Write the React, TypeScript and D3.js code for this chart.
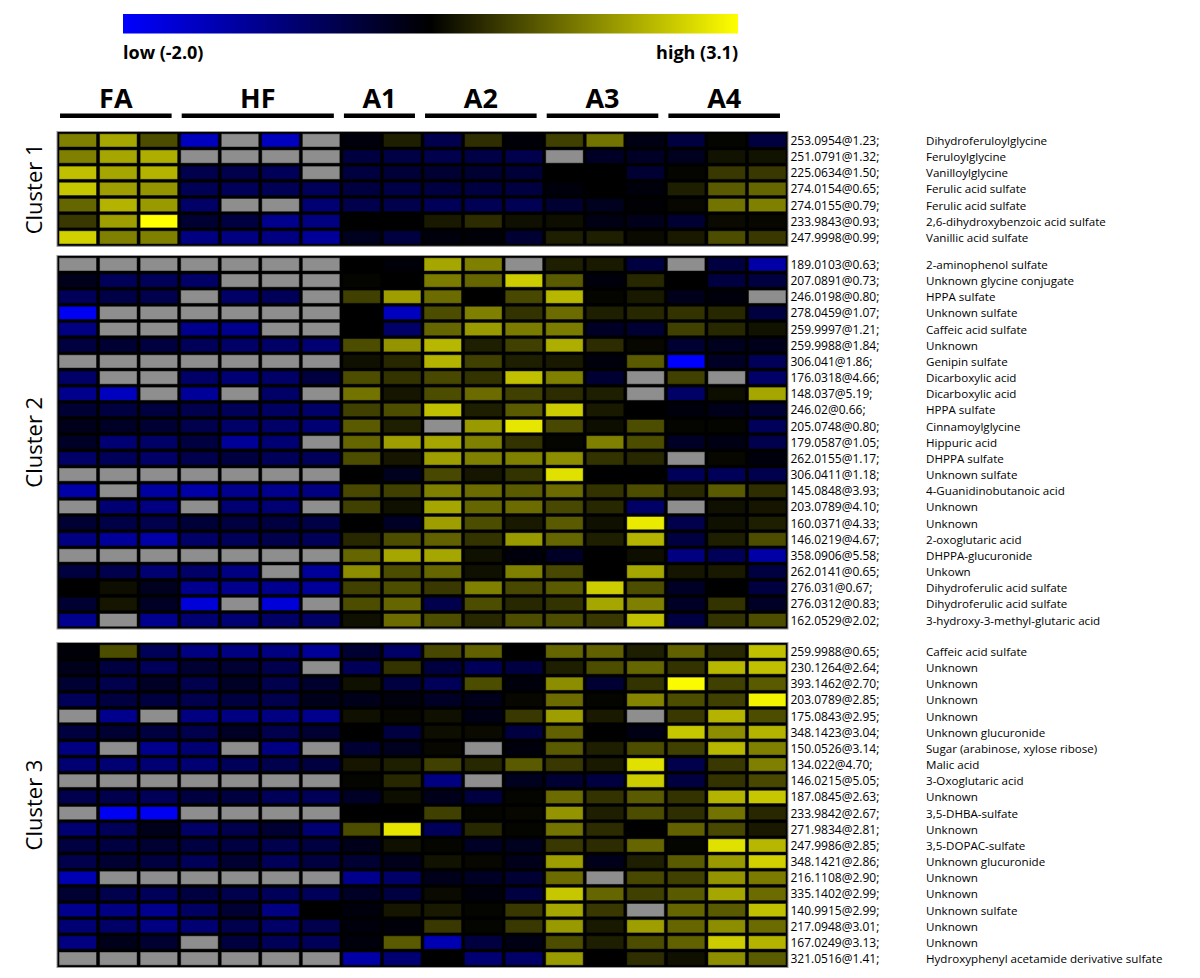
import React from 'react';
import * as d3 from 'd3';

// ---------- data ----------
const groups = ['FA', 'HF', 'A1', 'A2', 'A3', 'A4'];
const groupSizes = [3, 4, 2, 3, 3, 3];
const clusterNames = ['Cluster 1', 'Cluster 2', 'Cluster 3'];
const legendLow = 'low (-2.0)';
const legendHigh = 'high (3.1)';
const scaleLow = -2.0;
const scaleHigh = 3.1;

const N = null;

const cluster1Masses = [
  '253.0954@1.23;', '251.0791@1.32;', '225.0634@1.50;', '274.0154@0.65;', '274.0155@0.79;',
  '233.9843@0.93;', '247.9998@0.99;',
];
const cluster1Names = [
  'Dihydroferuloylglycine', 'Feruloylglycine', 'Vanilloylglycine', 'Ferulic acid sulfate',
  'Ferulic acid sulfate', '2,6-dihydroxybenzoic acid sulfate', 'Vanillic acid sulfate',
];
const cluster1Values = [
  [1.55, 2.02, 0.93, -1.5, N, -1.5, N, -0.1, 0.37, -0.6, 0.56, -0.06, 0.78, 1.4, -0.16, -0.5, 0.06, -0.5],
  [1.55, 2.02, 2.11, N, N, N, N, -0.5, -0.56, -0.6, -0.56, -0.6, N, -0.3, -0.3, -0.24, 0.22, 0.22],
  [2.33, 2.02, 2.17, -0.6, -0.6, -0.7, N, -0.5, -0.44, -0.4, -0.4, -0.44, 0, 0, -0.4, 0.06, 0.68, 0.68],
  [2.42, 1.92, 1.8, -0.66, -0.7, -0.66, -0.7, -0.5, -0.56, -0.5, -0.5, -0.5, -0.1, 0, -0.1, 0.37, 1.09, 1.24],
  [1.24, 2.17, 1.86, -0.8, N, N, -0.9, -0.6, -0.6, -0.7, -0.66, -0.66, -0.4, -0.24, -0.04, 0.09, 1.4, 1.55],
  [0.68, 1.92, 3.1, -0.4, -0.5, -1.1, -1.0, 0, 0, 0.31, 0.53, 0.19, 0.16, -0.16, -0.2, -0.4, 0.12, 0.09],
  [2.54, 1.55, 1.55, -1.0, -1.0, -1.0, -1.2, -0.24, -0.5, -0.1, -0.06, -0.4, 0.37, 0.37, 0.12, 0.31, 0.93, 0.68],
];

const cluster2Masses = [
  '189.0103@0.63;', '207.0891@0.73;', '246.0198@0.80;', '278.0459@1.07;', '259.9997@1.21;',
  '259.9988@1.84;', '306.041@1.86;', '176.0318@4.66;', '148.037@5.19;', '246.02@0.66;',
  '205.0748@0.80;', '179.0587@1.05;', '262.0155@1.17;', '306.0411@1.18;', '145.0848@3.93;',
  '203.0789@4.10;', '160.0371@4.33;', '146.0219@4.67;', '358.0906@5.58;', '262.0141@0.65;',
  '276.031@0.67;', '276.0312@0.83;', '162.0529@2.02;',
];
const cluster2Names = [
  '2-aminophenol sulfate', 'Unknown glycine conjugate', 'HPPA sulfate', 'Unknown sulfate',
  'Caffeic acid sulfate', 'Unknown', 'Genipin sulfate', 'Dicarboxylic acid', 'Dicarboxylic acid',
  'HPPA sulfate', 'Cinnamoylglycine', 'Hippuric acid', 'DHPPA sulfate', 'Unknown sulfate',
  '4-Guanidinobutanoic acid', 'Unknown', 'Unknown', '2-oxoglutaric acid', 'DHPPA-glucuronide',
  'Unkown', 'Dihydroferulic acid sulfate', 'Dihydroferulic acid sulfate',
  '3-hydroxy-3-methyl-glutaric acid',
];
const cluster2Values = [
  [N, N, N, N, N, N, N, 0, -0.06, 2.02, 1.55, N, 0.37, 0.31, -0.5, N, -0.5, -1.3],
  [-0.2, -0.7, -0.7, -0.8, N, N, N, 0.06, 0, 1.49, 1.24, 2.48, 1.09, -0.1, 0.47, 0, -0.5, -0.5],
  [-0.7, -0.56, -0.6, N, -0.8, -0.7, N, 0.78, 1.92, 1.3, 0, 0.87, 2.23, 0.06, 0.31, -0.2, -0.1, N],
  [-1.9, N, N, N, N, N, N, 0, -1.5, 0.93, 1.55, 0.62, 1.3, 0.37, 0.47, 0.62, 0.47, -0.5],
  [-1.0, N, N, -1.1, -1.1, N, N, 0, -0.8, 1.24, 1.86, 1.49, 1.49, -0.3, -0.4, 0.78, 0.47, 0.22],
  [-0.5, -0.4, -0.5, -0.7, -0.8, -0.8, -0.9, 0.93, 1.8, 2.23, 0.37, 0.78, 2.11, 0.53, 0.09, -0.4, -0.24, -0.2],
  [N, N, N, N, N, N, N, 0.19, 0.47, 2.17, 0.78, 0.37, 0.31, -0.1, 1.09, -2.0, -0.3, -0.7],
  [-0.8, N, N, -0.8, -0.9, -0.8, -0.5, 0.93, 0.62, 0.87, 0.62, 2.33, 1.55, -0.4, N, 0.78, N, -0.8],
  [-1.1, -1.5, N, -1.2, N, -0.8, N, 1.4, 0.25, 0.93, 1.3, 0.78, 0.53, 0.37, N, -0.8, 0.16, 2.02],
  [-0.4, -0.5, -0.5, -0.6, -0.7, -0.76, -0.8, 0.78, 0.93, 2.33, 0.37, 1.09, 2.48, 0.31, 0, -0.1, -0.2, -0.4],
  [-0.2, -0.3, -0.4, -0.6, -0.8, -0.8, -0.9, 1.09, 0.37, N, 1.86, 2.79, 0.87, 0.16, 0.93, 0.06, 0.06, -0.7],
  [-0.3, -0.9, -0.8, -0.5, -1.2, -0.9, N, 1.24, 1.92, 2.02, 1.55, 0.62, 0.06, 1.55, 0.93, -0.3, -0.16, -0.6],
  [-0.8, -0.7, -0.8, -0.6, -0.5, -0.7, -0.7, 0.93, 0.25, 1.92, 1.55, 1.55, 1.71, 0.62, 0.47, N, 0.09, -0.1],
  [N, N, N, N, N, N, N, 0, -0.24, 0.87, 0.25, 0.62, 2.73, 0, 0, -0.7, -0.7, -0.6],
  [-1.3, N, -1.24, -1.3, -1.1, -1.1, -1.0, 0.87, 0.78, 1.55, 1.3, 1.09, 1.3, 0.62, 0.93, 0.47, 1.09, 0.56],
  [N, -0.9, -1.0, N, -0.9, -0.9, N, 0.78, 0.19, 2.02, 1.24, 1.3, 0.87, 0.47, -0.8, N, 0.19, 0.25],
  [-0.4, -0.56, -0.6, -0.44, -0.5, -0.5, -0.56, 0, -0.3, 1.92, 0.93, 0.31, 1.09, 0.19, 2.85, -0.6, 0.19, 0.37],
  [-1.0, -1.2, -1.3, -0.8, -0.7, -0.6, -0.7, 0.47, 0.93, 1.18, 0.62, 1.86, 1.24, 0.37, 2.17, -0.5, 0.37, 0.93],
  [N, N, N, N, N, N, N, 1.24, 2.02, 2.02, 0.19, -0.1, -0.3, 0, 0.16, -1.0, -0.7, -1.3],
  [-0.5, -0.6, -0.9, -0.8, -1.0, N, -1.2, 1.71, 0.93, 1.24, 0.19, 1.55, 0.87, 0, 2.02, 0.25, 0.31, -0.5],
  [0, 0.16, -0.24, -1.1, -1.1, -1.1, -1.2, 0.78, 0.93, 0.68, 1.55, 0.87, 1.09, 2.48, 0.93, -0.3, 0, -0.5],
  [-0.4, 0.25, -0.3, -1.7, N, -1.7, N, 0.93, 1.24, -0.6, 0.93, 0.47, 0.62, 2.02, 1.55, -0.3, 0.62, -0.3],
  [-1.1, N, -1.1, -0.9, -0.9, -0.8, -0.8, 0.19, 1.3, 0.93, 0.47, 0.93, 0.93, 0.68, 2.33, -0.5, 0.62, 0.93],
];

const cluster3Masses = [
  '259.9988@0.65;', '230.1264@2.64;', '393.1462@2.70;', '203.0789@2.85;', '175.0843@2.95;',
  '348.1423@3.04;', '150.0526@3.14;', '134.022@4.70;', '146.0215@5.05;', '187.0845@2.63;',
  '233.9842@2.67;', '271.9834@2.81;', '247.9986@2.85;', '348.1421@2.86;', '216.1108@2.90;',
  '335.1402@2.99;', '140.9915@2.99;', '217.0948@3.01;', '167.0249@3.13;', '321.0516@1.41;',
];
const cluster3Names = [
  'Caffeic acid sulfate', 'Unknown', 'Unknown', 'Unknown', 'Unknown', 'Unknown glucuronide',
  'Sugar (arabinose, xylose ribose)', 'Malic acid', '3-Oxoglutaric acid', 'Unknown',
  '3,5-DHBA-sulfate', 'Unknown', '3,5-DOPAC-sulfate', 'Unknown glucuronide', 'Unknown', 'Unknown',
  'Unknown sulfate', 'Unknown', 'Unknown', 'Hydroxyphenyl acetamide derivative sulfate',
];
const cluster3Values = [
  [-0.06, 0.93, -0.7, -1.0, -1.0, -1.0, -1.2, -0.4, -0.8, 0.87, 1.18, 0, 1.24, 1.18, 0.37, 1.18, 0.47, 2.33],
  [-0.2, -0.5, -0.7, -0.4, -0.4, -0.6, N, -0.7, 0.62, -0.5, -0.7, -0.5, 0.37, 0.93, 1.24, 0.62, 2.23, 2.33],
  [-0.4, -0.6, -0.3, -0.6, -0.3, -0.6, -0.36, 0.19, -0.5, -0.7, 0.93, -0.1, 1.71, -0.4, 0.62, 3.04, 0.78, 1.09],
  [-0.7, -0.5, -0.5, -0.6, -0.5, -0.6, -0.2, -0.2, -0.12, -0.3, -0.2, 0.09, 1.3, 0.06, 1.61, 0.93, 0.78, 2.95],
  [N, -1.1, N, -1.0, -1.0, -1.0, -1.1, 0.19, 0.09, 0.19, -0.16, 0.68, 1.92, 0.31, N, 0.68, 2.17, 0.93],
  [-0.5, -0.4, -0.5, -0.6, -0.3, -0.6, -0.4, 0, -0.5, 0.16, 0.12, -0.5, 1.18, 0, -0.16, 2.42, 1.71, 2.17],
  [-1.0, N, -1.1, -0.9, N, -1.0, N, -0.4, -0.24, 0.09, N, -0.1, 1.09, 0.37, 0.93, 0.78, 2.23, 1.55],
  [-0.9, -0.9, -0.9, -0.9, -0.7, -0.6, -0.5, 0.25, 0.37, 0.78, 0.47, 1.09, 0.68, 0.31, 2.73, -0.6, 0.68, 1.55],
  [N, N, N, N, N, N, N, 0.06, 0.47, -1.0, N, -0.24, -0.4, -0.5, 2.48, -0.5, 0.62, 0.87],
  [-0.6, -0.6, -0.7, -0.5, -0.5, -0.7, -0.7, -0.3, 0.16, -0.2, -0.5, 0.06, 1.3, 0.62, 1.09, 0.62, 2.17, 2.42],
  [N, -1.9, -1.9, N, N, N, N, 0, 0, 0.78, 0.06, 0.09, 1.8, 0.37, 0.93, 0.56, 1.4, 0.47],
  [-0.9, -0.7, -0.2, -0.8, -0.6, -0.4, -0.9, 0.93, 2.79, -0.7, 0.47, 0.06, 1.4, 0.53, 0, 1.18, 0.87, 0.31],
  [-0.5, -0.5, -0.4, -0.5, -0.5, -0.6, -0.5, -0.2, 0.19, 0.06, -0.3, -0.24, 0.68, 0.53, 1.24, 0.06, 2.73, 2.23],
  [-0.6, -0.4, -0.5, -0.7, -0.4, -0.7, -0.5, -0.4, -0.2, 0.22, 0.09, -0.2, 1.92, -0.2, 0.37, 1.09, 1.86, 2.54],
  [-1.4, N, N, N, N, N, N, -1.1, -0.8, -0.2, -0.3, -0.4, 1.3, N, 0.87, 0.78, 1.8, 1.49],
  [-0.4, -0.6, -0.7, -0.5, -0.6, -0.7, -0.7, -0.3, -0.5, 0.12, -0.1, -0.5, 2.42, 1.24, 0.78, 1.09, 2.02, 1.3],
  [-1.1, -1.0, -1.1, -0.76, -0.4, -1.0, 0, -0.1, 0.25, 0.31, 0.06, 0.68, 2.02, 0.68, N, 1.24, 1.09, 2.33],
  [-0.9, -0.8, -1.0, -0.9, -0.6, -0.8, -0.6, -0.1, -0.08, 0.68, 0.06, 0.68, 1.86, 0.31, 1.92, 1.24, 1.71, 1.3],
  [-1.0, -0.2, -0.4, N, -0.5, -0.7, -0.7, -0.1, 1.09, -1.4, -0.5, -0.16, 0.93, 0.37, 0.93, 1.18, 2.48, 2.17],
  [N, N, N, N, N, N, N, -1.3, -0.9, 0, -0.9, -0.8, 1.86, 0, 0.56, 0.19, 1.71, 1.09],
];

// ---------- layout ----------
const W = 1200;
const H = 978;
const FONT = '"Open Sans", "Noto Sans", sans-serif';
const nCols = d3.sum(groupSizes);
const heatLeft = 57;
const heatRight = 788;
const rowStep = 16.17;
const clusterTops = [131.5, 255.5, 642.5];
const massX = 790.5;
const nameX = 926;

const clusters = [
  { name: clusterNames[0], masses: cluster1Masses, names: cluster1Names, values: cluster1Values },
  { name: clusterNames[1], masses: cluster2Masses, names: cluster2Names, values: cluster2Values },
  { name: clusterNames[2], masses: cluster3Masses, names: cluster3Names, values: cluster3Values },
];

const colScale = d3
  .scaleBand<number>()
  .domain(d3.range(nCols))
  .range([heatLeft, heatRight])
  .paddingInner(0.076)
  .paddingOuter(0.05);

const color = d3
  .scaleLinear<string>()
  .domain([scaleLow, 0, scaleHigh])
  .range(['#0000ff', '#000000', '#ffff00'])
  .interpolate(d3.interpolateRgb)
  .clamp(true);

const groupStarts = groupSizes.map((_, i) => d3.sum(groupSizes.slice(0, i)));

export default function App() {
  const bw = colScale.bandwidth();
  return (
    <svg
      width={W}
      height={H}
      viewBox={`0 0 ${W} ${H}`}
      style={{ position: 'absolute', left: 0, top: 0, background: '#fff' }}
    >
      <defs>
        <linearGradient id="cbar" x1="0" x2="1" y1="0" y2="0">
          <stop offset="0%" stopColor="#0000ff" />
          <stop offset="50%" stopColor="#000000" />
          <stop offset="100%" stopColor="#ffff00" />
        </linearGradient>
      </defs>
      <rect width={W} height={H} fill="#fff" />

      {/* color bar */}
      <rect x={123} y={14} width={615} height={19.5} fill="url(#cbar)" />
      <text x={123} y={59} fontFamily={FONT} fontWeight="bold" fontSize={18} fill="#000">
        {legendLow}
      </text>
      <text x={738} y={59} textAnchor="end" fontFamily={FONT} fontWeight="bold" fontSize={18} fill="#000">
        {legendHigh}
      </text>

      {/* group headers */}
      {groups.map((g, i) => {
        const first = groupStarts[i];
        const last = first + groupSizes[i] - 1;
        const x1 = (colScale(first) as number) + 1;
        const x2 = (colScale(last) as number) + bw - 6;
        return (
          <g key={g}>
            <text
              x={(x1 + x2) / 2}
              y={107.5}
              textAnchor="middle"
              fontFamily={FONT}
              fontWeight="bold"
              fontSize={27}
              fill="#000"
            >
              {g}
            </text>
            <rect x={x1} y={113.5} width={x2 - x1} height={4.5} fill="#000" />
          </g>
        );
      })}

      {clusters.map((c, ci) => {
        const n = c.values.length;
        const top = clusterTops[ci];
        const rowScale = d3
          .scaleBand<number>()
          .domain(d3.range(n))
          .range([top, top + rowStep * (n + 0.1)])
          .paddingInner(0.18)
          .paddingOuter(0.14);
        const bh = rowScale.bandwidth();
        const boxH = rowStep * (n + 0.1);
        return (
          <g key={c.name}>
            <rect
              x={heatLeft}
              y={top}
              width={heatRight - heatLeft}
              height={boxH}
              fill="#000"
              stroke="#9a9a9a"
              strokeWidth={1}
            />
            {c.values.map((row, ri) =>
              row.map((v, ci2) => (
                <rect
                  key={`${ri}-${ci2}`}
                  x={colScale(ci2)}
                  y={rowScale(ri)}
                  width={bw}
                  height={bh}
                  fill={v === null ? '#8e8e8e' : color(v)}
                  stroke="rgba(0,0,0,0.45)"
                  strokeWidth={1}
                />
              ))
            )}
            {c.masses.map((m, ri) => (
              <text
                key={`m${ri}`}
                x={massX}
                y={(rowScale(ri) as number) + bh / 2}
                dominantBaseline="central"
                fontFamily={FONT}
                fontSize={12}
                fill="#000"
              >
                {m}
              </text>
            ))}
            {c.names.map((m, ri) => (
              <text
                key={`n${ri}`}
                x={nameX}
                y={(rowScale(ri) as number) + bh / 2}
                dominantBaseline="central"
                fontFamily={FONT}
                fontSize={11.6}
                fill="#000"
              >
                {m}
              </text>
            ))}
            <text
              transform={`translate(42, ${top + boxH / 2}) rotate(-90)`}
              textAnchor="middle"
              fontFamily={FONT}
              fontSize={22}
              fill="#000"
            >
              {c.name}
            </text>
          </g>
        );
      })}
    </svg>
  );
}
